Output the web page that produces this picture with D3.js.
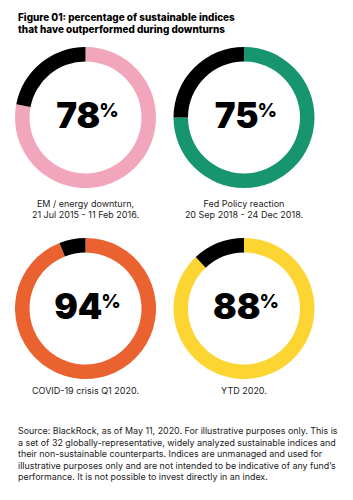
<!DOCTYPE html>
<html>
<head>
<meta charset="utf-8">
<script src="https://cdn.jsdelivr.net/npm/d3@7"></script>
<style>
  body { margin: 0; background: #fff; }
  svg { display: block; font-family: Inter, "Noto Sans", sans-serif; }
</style>
</head>
<body>
<svg id="chart" width="353" height="500"></svg>
<script>
// Chart data
const titleLines = [
  'Figure 01: percentage of sustainable indices',
  'that have outperformed during downturns'
];
const values = [78, 75, 94, 88];
const labels = [
  ['EM / energy downturn,', '21 Jul 2015 - 11 Feb 2016.'],
  ['Fed Policy reaction', '20 Sep 2018 - 24 Dec 2018.'],
  ['COVID-19 crisis Q1 2020.'],
  ['YTD 2020.']
];
const colors = ['#f1a6bb', '#17956f', '#e9622f', '#fdd533'];
const footLines = [
  'Source: BlackRock, as of May 11, 2020. For illustrative purposes only. This is',
  'a set of 32 globally-representative, widely analyzed sustainable indices and',
  'their non-sustainable counterparts. Indices are unmanaged and used for',
  'illustrative purposes only and are not intended to be indicative of any fund\u2019s',
  'performance. It is not possible to invest directly in an index.'
];

const svg = d3.select('#chart');

// fit a text line to a given width by adjusting font size
function fitWidth(sel, w) {
  const len = sel.node().getComputedTextLength();
  const fs = parseFloat(sel.attr('font-size'));
  sel.attr('font-size', fs * w / len);
}

// Title
const title = svg.append('g');
titleLines.forEach((t, i) => {
  const el = title.append('text')
    .attr('x', 18)
    .attr('y', 20.5 + i * 12)
    .attr('font-size', 10)
    .attr('font-weight', 800)
    .attr('fill', '#000')
    .text(t);
  if (i === 0) fitWidth(el, 217);
  if (i === 1) el.attr('font-size', title.select('text').attr('font-size'));
});

// Grid of donuts
const xPos = d3.scaleLinear().domain([0, 1]).range([85.5, 244]);
const yPos = d3.scaleLinear().domain([0, 1]).range([117.5, 308.5]);
const outerR = 70.5, innerR = 56;

const pie = d3.pie().sort(null).value(d => d);
const arc = d3.arc().innerRadius(innerR).outerRadius(outerR);

const cells = svg.selectAll('.cell')
  .data(values)
  .enter().append('g')
  .attr('class', 'cell')
  .attr('transform', (d, i) => `translate(${xPos(i % 2)},${yPos(Math.floor(i / 2))})`);

cells.each(function(v, i) {
  const g = d3.select(this);
  g.selectAll('path')
    .data(pie([v, 100 - v]))
    .enter().append('path')
    .attr('d', arc)
    .attr('fill', (d, j) => j === 0 ? colors[i] : '#000');

  const t = g.append('text')
    .attr('text-anchor', 'middle')
    .attr('x', 2)
    .attr('y', 10.5)
    .attr('font-size', 35)
    .attr('font-weight', 900)
    .attr('fill', '#000');
  t.append('tspan').text(v);
  t.append('tspan')
    .attr('font-size', 19)
    .attr('font-weight', 800)
    .attr('dx', -1)
    .attr('dy', -11.5)
    .text('%');

  const baseY = i < 2 ? 89.5 : 85;
  labels[i].forEach((l, k) => {
    g.append('text')
      .attr('text-anchor', 'middle')
      .attr('x', 0)
      .attr('y', baseY + k * 11)
      .attr('font-size', 9)
      .attr('fill', '#222')
      .text(l);
  });
});

// Footnote
const foot = svg.append('g');
let footSize = 8.5;
footLines.forEach((t, i) => {
  const el = foot.append('text')
    .attr('x', 18)
    .attr('y', 434 + i * 11.6)
    .attr('font-size', footSize)
    .attr('fill', '#222')
    .text(t);
  if (i === 0) { fitWidth(el, 320); footSize = el.attr('font-size'); }
});
</script>
</body>
</html>
